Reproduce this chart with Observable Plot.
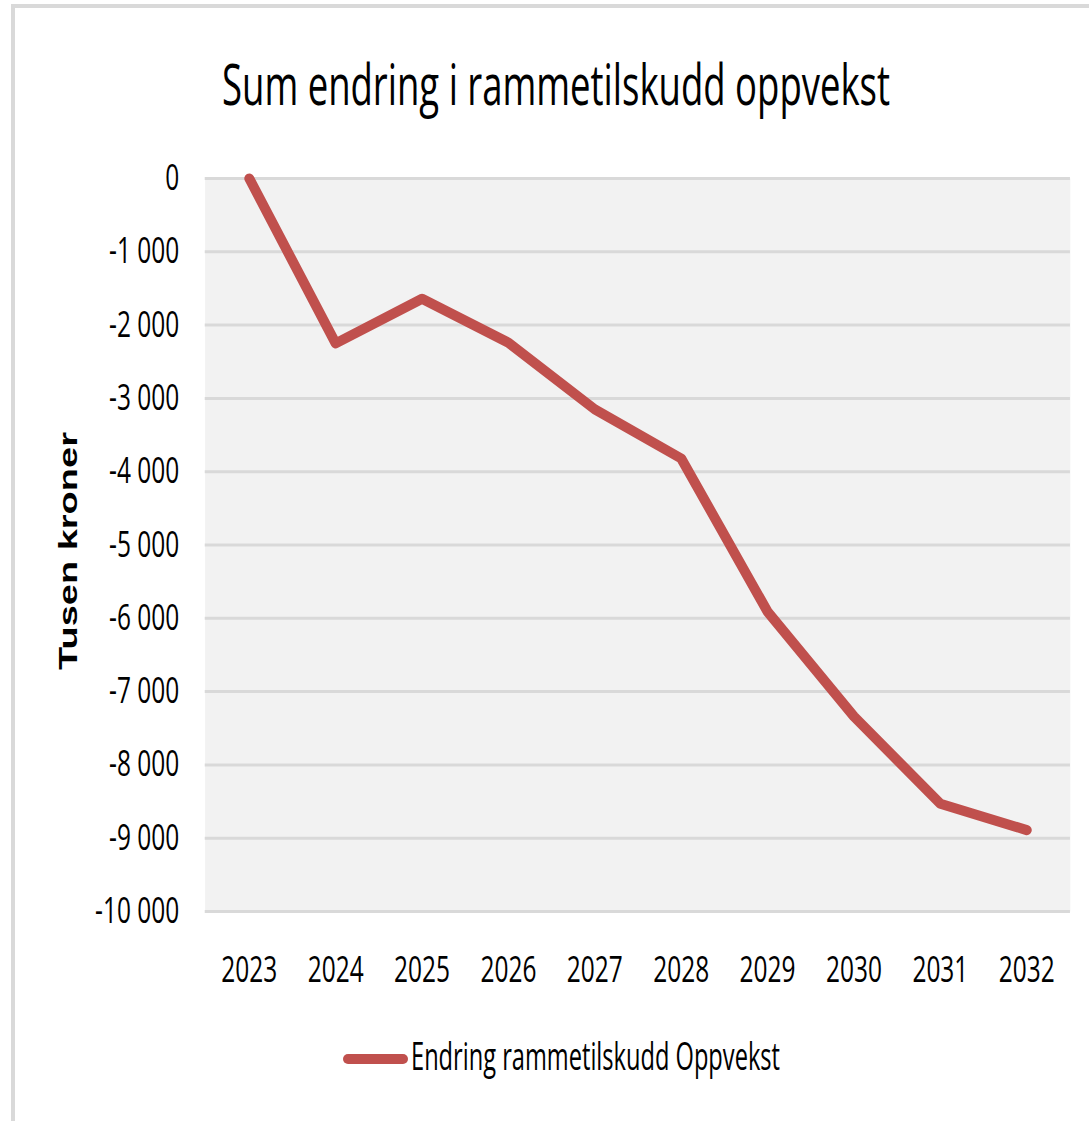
<!DOCTYPE html>
<html>
<head>
<meta charset="utf-8">
<script src="https://cdn.jsdelivr.net/npm/d3@7"></script>
<script src="https://cdn.jsdelivr.net/npm/@observablehq/plot@0.6"></script>
<style>
  html, body { margin: 0; padding: 0; background: #fff; overflow: hidden; }
  #page { position: relative; width: 1089px; height: 1121px; background: #fff; }
  .bar { position: absolute; background: #d9d9d9; }
  .txt { position: absolute; white-space: nowrap; font-family: "Open Sans", sans-serif; line-height: 1; color: #000; transform-origin: 0 0; }
  #title { font-size: 57px; left: 222px; top: 55px; }
  #legendText { font-size: 38px; left: 411px; top: 1036px; }
  #legendSwatch { position: absolute; left: 343px; top: 1054px; width: 65px; height: 10px; border-radius: 5px; background: #c0504d; }
  #chart { position: absolute; left: 0; top: 140px; }
</style>
</head>
<body>
<div id="page">
  <div class="bar" style="left:11px;top:4px;width:1078px;height:4px;"></div>
  <div class="bar" style="left:11px;top:4px;width:4px;height:1117px;"></div>
  <div class="txt" id="title">Sum endring i rammetilskudd oppvekst</div>
  <div id="chart"></div>
  <div id="legendSwatch"></div>
  <div class="txt" id="legendText">Endring rammetilskudd Oppvekst</div>
</div>
<script>
// ---- data ----
const years = ["2023", "2024", "2025", "2026", "2027", "2028", "2029", "2030", "2031", "2032"];
const values = [0, -2250, -1640, -2240, -3150, -3820, -5910, -7340, -8530, -8890];
const yTicks = [0, -1000, -2000, -3000, -4000, -5000, -6000, -7000, -8000, -9000, -10000];
const yLabel = "Tusen kroner";
const seriesName = "Endring rammetilskudd Oppvekst";

const data = years.map((y, i) => ({year: y, value: values[i]}));

// horizontal compression of the reference image
const outW = 1089, outH = 880;
const S = 0.68;
const W = Math.round(outW / S);

const fmt = d => d === 0 ? "0" : (d < 0 ? "-" : "") + d3.format(",")(Math.abs(d)).replace(/,/g, "\u00A0");

const chart = Plot.plot({
  width: W,
  height: outH,
  marginTop: 38,
  marginBottom: 109,
  marginLeft: 301,
  marginRight: 28,
  style: {fontFamily: "Open Sans, sans-serif", fontSize: "36px", color: "#000", background: "transparent"},
  x: {type: "point", domain: years, padding: 0.5, tickSize: 0, tickPadding: 45, label: null},
  y: {domain: [-10000, 0], ticks: yTicks, tickSize: 0, tickPadding: 38, tickFormat: fmt, label: null},
  marks: [
    Plot.frame({fill: "#f2f2f2", stroke: null}),
    Plot.ruleY(yTicks, {stroke: "#d9d9d9", strokeWidth: 3}),
    Plot.line(data, {x: "year", y: "value", stroke: "#c0504d", strokeWidth: 10, strokeLinecap: "round", strokeLinejoin: "round"}),
    Plot.text([yLabel], {text: d => d, frameAnchor: "left", textAnchor: "middle", lineAnchor: "middle", dx: -200, dy: 6, rotate: -90, fontSize: 38, fontWeight: "bold", fontFamily: "Liberation Sans, sans-serif", fill: "#000"})
  ]
});

chart.setAttribute("width", outW);
chart.setAttribute("height", outH);
chart.setAttribute("preserveAspectRatio", "none");
chart.style.width = outW + "px";
chart.style.height = outH + "px";
chart.style.maxWidth = "none";
chart.querySelectorAll('g[aria-label="line"] path').forEach(p => p.setAttribute("vector-effect", "non-scaling-stroke"));
document.getElementById("chart").appendChild(chart);

function fit(id, target) {
  const el = document.getElementById(id);
  const w = el.getBoundingClientRect().width;
  el.style.transform = `scaleX(${target / w})`;
}
fit("title", 668);
fit("legendText", 369);
</script>
</body>
</html>
